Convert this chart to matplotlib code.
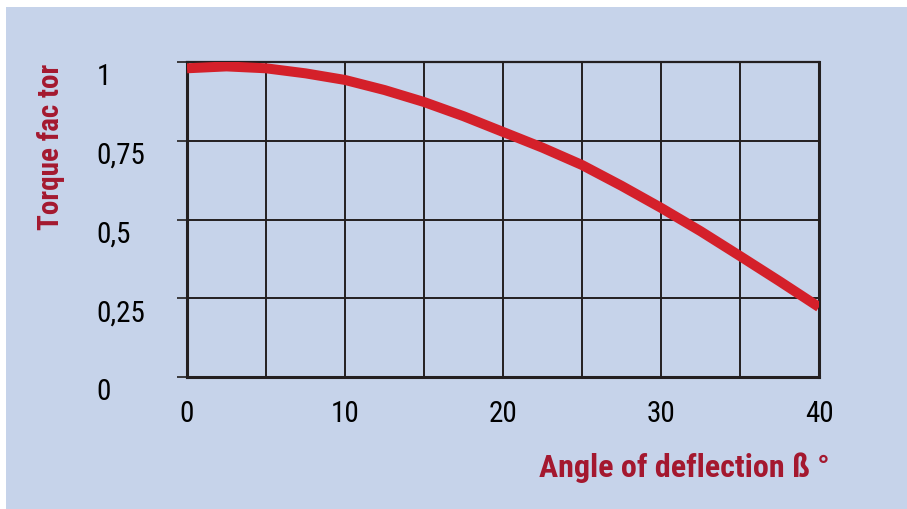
import matplotlib
matplotlib.use('Agg')
import matplotlib.pyplot as plt
from matplotlib.patches import Rectangle

# values
angle = [0, 2.5, 5, 7.5, 10, 12.5, 15, 17.5, 20, 22.5, 25, 27.5, 30, 32.5, 35, 37.5, 40]
torque = [0.98, 0.986, 0.98, 0.964, 0.943, 0.911, 0.873, 0.828, 0.778, 0.728, 0.673,
          0.607, 0.537, 0.463, 0.384, 0.304, 0.222]
x_ticks = [0, 10, 20, 30, 40]
x_grid = [0, 5, 10, 15, 20, 25, 30, 35, 40]
y_ticks = [0, 0.25, 0.5, 0.75, 1]
y_labels = ['0', '0,25', '0,5', '0,75', '1']

plt.rcParams['font.family'] = ['Roboto Condensed', 'DejaVu Sans']

bg = '#c6d3ea'
red = '#d4202a'
dark_red = '#a4182f'
ink = '#231f20'

fig = plt.figure(figsize=(9.07, 5.10), dpi=100, facecolor='white')
fig.patches.append(Rectangle((6 / 907, 0), 1, 502 / 510, transform=fig.transFigure,
                             facecolor=bg, edgecolor='none', zorder=-5))

ax = fig.add_axes([187 / 907, 132 / 510, 632 / 907, 315 / 510])
ax.set_facecolor(bg)
ax.set_xlim(0, 40)
ax.set_ylim(0, 1)

# 5-degree grid lines come from the minor ticks
ax.set_xticks(x_ticks)
ax.set_xticks(x_grid, minor=True)
ax.set_yticks(y_ticks)
ax.set_yticklabels(y_labels)
ax.grid(True, which='both', color=ink, linewidth=1.4)
ax.set_axisbelow(True)

ax.plot(angle, torque, color=red, linewidth=7.2, solid_capstyle='butt',
        solid_joinstyle='round', zorder=3)

for s in ax.spines.values():
    s.set_color(ink)
    s.set_linewidth(2.2)
ax.spines['top'].set_linewidth(1.6)

ax.tick_params(axis='x', which='both', length=0, pad=16, labelsize=21, colors='black')
ax.tick_params(axis='y', length=7, width=1.2, color=ink, pad=58, labelsize=21)
for lab in ax.get_yticklabels():
    lab.set_horizontalalignment('left')
    lab.set_verticalalignment('top')
    lab.set_y(lab.get_position()[1])

ax.set_xlabel('Angle of deflection ß °', fontsize=23, fontweight='bold', color=dark_red,
              ha='right', va='center')
ax.xaxis.set_label_coords(1.017, -0.286)
ax.set_ylabel('Torque fac tor', fontsize=21, fontweight='bold', color=dark_red,
              ha='center', va='center')
ax.yaxis.set_label_coords(-0.215, 0.733)

fig.savefig('out.png', dpi=100, facecolor='white')
